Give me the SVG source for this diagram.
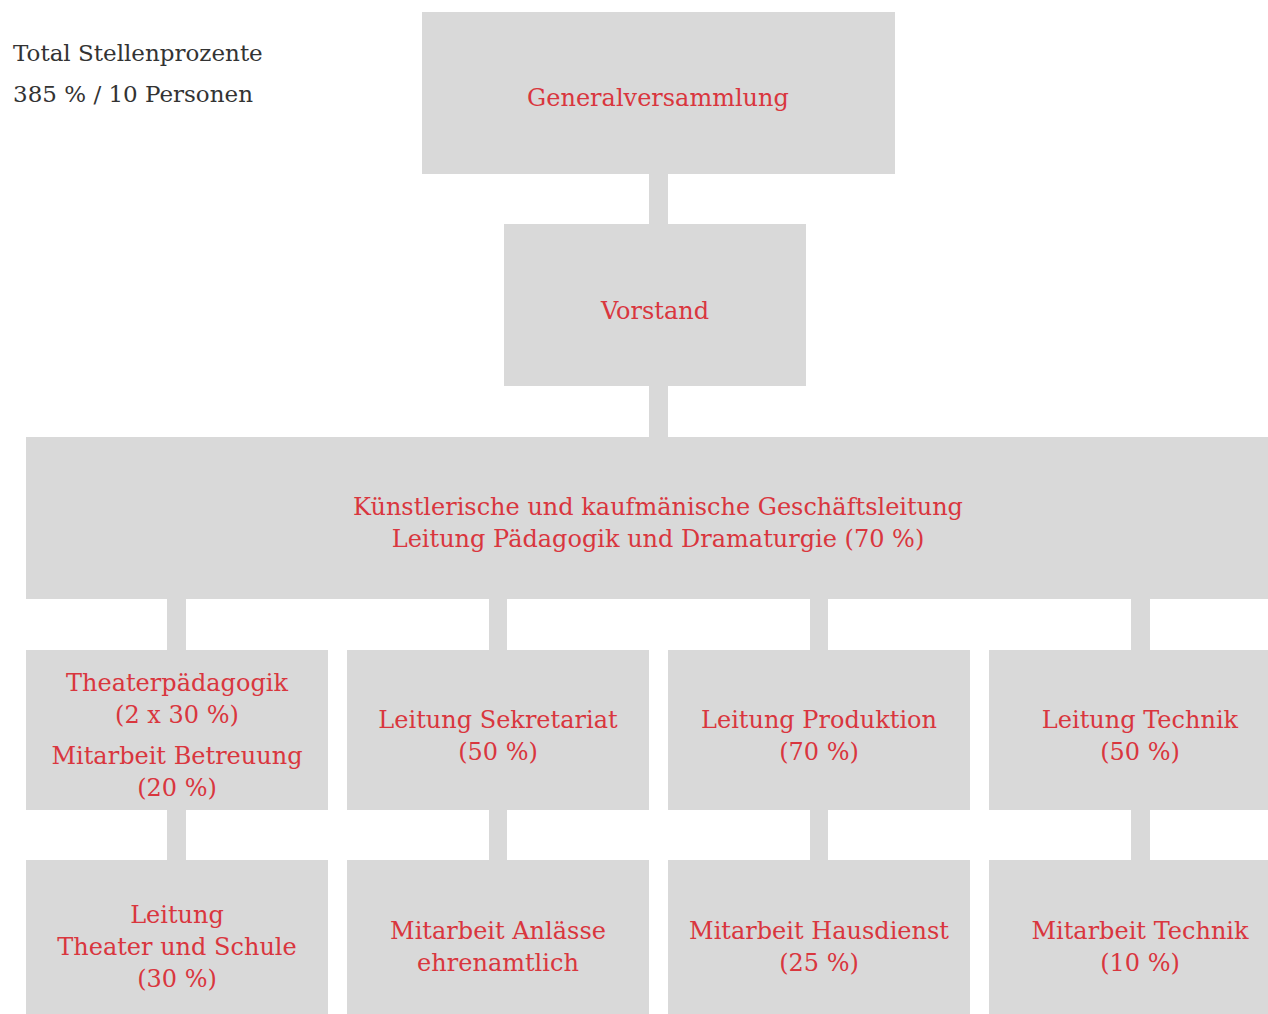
<svg xmlns="http://www.w3.org/2000/svg" width="1268" height="1014" viewBox="0 0 1268 1014">
<style>
.box{fill:#d9d9d9}
.con{fill:#d9d9d9}
.t{font-family:"DejaVu Serif","Liberation Serif",serif;font-size:24px;fill:#d9363e;text-anchor:middle}
.info{font-family:"DejaVu Serif","Liberation Serif",serif;font-size:23px;fill:#333333}
</style>
<rect width="1268" height="1014" fill="#ffffff"/>
<g id="info">
<text class="info" x="13" y="61">Total Stellenprozente</text>
<text class="info" x="13" y="102">385 % / 10 Personen</text>
</g>
<g id="connectors">
<rect class="con" x="649" y="173" width="19" height="52"/>
<rect class="con" x="649" y="385" width="19" height="53"/>
<rect class="con" x="167" y="598" width="19" height="53"/>
<rect class="con" x="489" y="598" width="18" height="53"/>
<rect class="con" x="810" y="598" width="18" height="53"/>
<rect class="con" x="1131" y="598" width="19" height="53"/>
<rect class="con" x="167" y="809" width="19" height="52"/>
<rect class="con" x="489" y="809" width="18" height="52"/>
<rect class="con" x="810" y="809" width="18" height="52"/>
<rect class="con" x="1131" y="809" width="19" height="52"/>
</g>
<g id="generalversammlung">
<rect class="box" x="422" y="12" width="473" height="162"/>
<text class="t" x="658" y="106">Generalversammlung</text>
</g>
<g id="vorstand">
<rect class="box" x="504" y="224" width="302" height="162"/>
<text class="t" x="655" y="319">Vorstand</text>
</g>
<g id="geschaeftsleitung">
<rect class="box" x="26" y="437" width="1242" height="162"/>
<text class="t" x="658" y="515">Künstlerische und kaufmänische Geschäftsleitung</text>
<text class="t" x="658" y="547">Leitung Pädagogik und Dramaturgie (70 %)</text>
</g>
<g id="theaterpaedagogik">
<rect class="box" x="26" y="650" width="302" height="160"/>
<text class="t" x="177" y="691">Theaterpädagogik</text>
<text class="t" x="177" y="723">(2 x 30 %)</text>
<text class="t" x="177" y="764">Mitarbeit Betreuung</text>
<text class="t" x="177" y="796">(20 %)</text>
</g>
<g id="sekretariat">
<rect class="box" x="347" y="650" width="302" height="160"/>
<text class="t" x="498" y="728">Leitung Sekretariat</text>
<text class="t" x="498" y="760">(50 %)</text>
</g>
<g id="produktion">
<rect class="box" x="668" y="650" width="302" height="160"/>
<text class="t" x="819" y="728">Leitung Produktion</text>
<text class="t" x="819" y="760">(70 %)</text>
</g>
<g id="technik">
<rect class="box" x="989" y="650" width="279" height="160"/>
<text class="t" x="1140" y="728">Leitung Technik</text>
<text class="t" x="1140" y="760">(50 %)</text>
</g>
<g id="theater-schule">
<rect class="box" x="26" y="860" width="302" height="154"/>
<text class="t" x="177" y="923">Leitung</text>
<text class="t" x="177" y="955">Theater und Schule</text>
<text class="t" x="177" y="987">(30 %)</text>
</g>
<g id="anlaesse">
<rect class="box" x="347" y="860" width="302" height="154"/>
<text class="t" x="498" y="939">Mitarbeit Anlässe</text>
<text class="t" x="498" y="971">ehrenamtlich</text>
</g>
<g id="hausdienst">
<rect class="box" x="668" y="860" width="302" height="154"/>
<text class="t" x="819" y="939">Mitarbeit Hausdienst</text>
<text class="t" x="819" y="971">(25 %)</text>
</g>
<g id="mitarbeit-technik">
<rect class="box" x="989" y="860" width="279" height="154"/>
<text class="t" x="1140" y="939">Mitarbeit Technik</text>
<text class="t" x="1140" y="971">(10 %)</text>
</g>
</svg>
